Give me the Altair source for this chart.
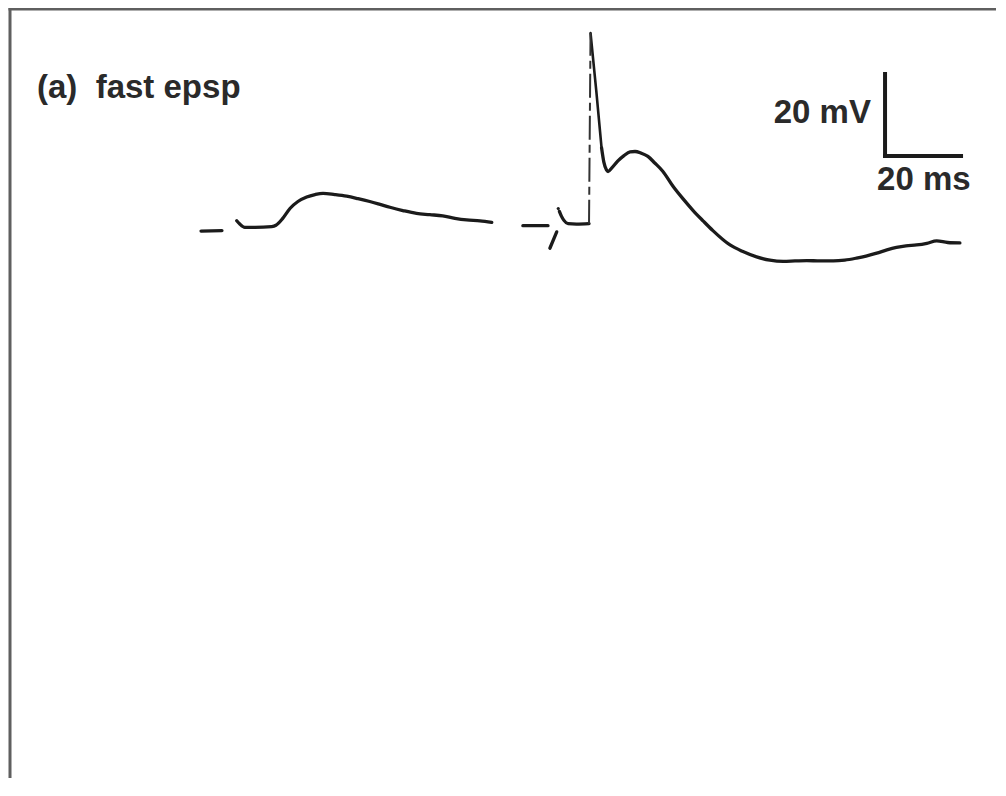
import altair as alt
import pandas as pd

# ---- trace data (time in ms, membrane potential in mV relative to baseline) ----
seg_a_t = [0.3, 5.8]
seg_a_v = [-0.5, -0.4]

seg_b_t = [9.7, 10.5, 11.8, 14.5, 18.9, 20.0, 21.8, 23.7, 25.8, 28.1, 30.3, 32.4, 35.5, 38.6,
           41.6, 44.7, 47.4, 50.0, 53.4, 57.0, 60.5, 63.9, 67.1, 70.2, 73.7, 76.8]
seg_b_v = [2.0, 1.2, 0.4, 0.4, 0.6, 0.9, 2.6, 5.0, 6.7, 7.8, 8.4, 8.7, 8.4, 8.0,
           7.4, 6.7, 6.0, 5.3, 4.5, 3.8, 3.5, 3.2, 2.6, 2.2, 2.0, 1.6]

seg_c_t = [85.0, 91.6]
seg_c_v = [0.8, 0.8]

seg_d_t = [92.1, 93.9]
seg_d_v = [-4.7, -0.7]

seg_e_t = [94.6, 95.1, 95.8, 96.9, 99.1, 102.4]
seg_e_v = [4.3, 3.2, 2.1, 1.3, 1.2, 1.3]

# fast rising phase of the action potential (faint, broken in the recording)
rise_t = [102.4, 102.8]
rise_v = [1.3, 47.8]

# falling phase: nearly straight
fall_t = [102.8, 104.3, 105.7]
fall_v = [47.8, 33.8, 19.8]

seg_g_t = [105.7, 106.3, 107.0, 107.4, 108.4, 110.0,
           111.6, 113.2, 114.5, 116.1, 117.9, 119.7, 121.8, 124.6, 127.1, 129.8, 132.4,
           135.0, 139.5, 142.9, 146.5, 150.0, 153.5, 156.6, 159.7, 163.2, 166.7, 169.7,
           172.8, 175.3, 178.1, 180.8, 183.3, 185.8, 188.6, 191.3, 193.9, 196.8, 200.0]
seg_g_v = [19.8, 16.3, 14.4, 14.0, 14.9, 16.6,
           17.9, 18.8, 18.9, 18.5, 17.7, 16.1, 14.1, 10.3, 7.4, 4.5, 2.0,
           -0.4, -3.9, -5.5, -6.8, -7.6, -7.9, -7.8, -7.7, -7.8, -7.8, -7.6,
           -7.1, -6.6, -5.9, -5.1, -4.5, -4.1, -3.9, -3.5, -2.9, -3.3, -3.4]

dot_t = [94.3]
dot_v = [5.0]

# ---- scale bar (20 ms, 20 mV) ----
bar_x1 = [180.3, 180.3]
bar_x2 = [180.3, 200.3]
bar_y1 = [37.8, 17.8]
bar_y2 = [17.8, 17.8]

label_text = ["20 mV", "20 ms"]
label_t = [176.6, 178.2]
label_v = [28.3, 12.0]

panel_title = "(a)\u00a0\u00a0fast epsp"

# ---- build tables ----
rows = []
for name, ts, vs in [("a", seg_a_t, seg_a_v), ("b", seg_b_t, seg_b_v),
                     ("c", seg_c_t, seg_c_v), ("d", seg_d_t, seg_d_v),
                     ("e", seg_e_t, seg_e_v), ("g", seg_g_t, seg_g_v)]:
    for i, (t, v) in enumerate(zip(ts, vs)):
        rows.append({"seg": name, "i": i, "t": t, "v": v})
trace = pd.DataFrame(rows)
rise = pd.DataFrame({"t": rise_t, "v": rise_v, "i": [0, 1]})
fall = pd.DataFrame({"t": fall_t, "v": fall_v, "i": list(range(len(fall_t)))})
dot = pd.DataFrame({"t": dot_t, "v": dot_v})
bars = pd.DataFrame({"x1": bar_x1, "x2": bar_x2, "y1": bar_y1, "y2": bar_y2})
labels = pd.DataFrame({"text": label_text, "t": label_t, "v": label_v})

W, H = 988, 770
xs = alt.Scale(domain=[-50.5, -50.5 + W / 3.8], nice=False, zero=False)
ys = alt.Scale(domain=[53.9 - H / 4.1, 53.9], nice=False, zero=False)
INK = "#1b1b1b"
TXT = "#2a2a2a"
FONT = "Liberation Sans"
FS = 33

X = alt.X("t:Q", scale=xs, axis=None)
Y = alt.Y("v:Q", scale=ys, axis=None)

trace_layer = alt.Chart(trace).mark_line(
    color=INK, strokeWidth=3.3, interpolate="monotone", strokeCap="round", strokeJoin="round"
).encode(x=X, y=Y, detail="seg:N", order="i:Q")

fall_layer = alt.Chart(fall).mark_line(
    color=INK, strokeWidth=2.6, strokeCap="round", strokeJoin="round"
).encode(x=X, y=Y, order="i:Q")

rise_layer = alt.Chart(rise).mark_line(
    color="#333333", strokeWidth=2, strokeDash=[24, 5, 8, 5]
).encode(x=X, y=Y, order="i:Q")

dot_layer = alt.Chart(dot).mark_circle(color=INK, size=10, opacity=1).encode(x=X, y=Y)

bar_layer = alt.Chart(bars).mark_rule(color=INK, strokeWidth=4, strokeCap="square").encode(
    x=alt.X("x1:Q", scale=xs, axis=None),
    x2="x2:Q",
    y=alt.Y("y1:Q", scale=ys, axis=None),
    y2="y2:Q",
)

label_right = alt.Chart(labels.iloc[[0]]).mark_text(
    align="right", baseline="middle", font=FONT, fontWeight="bold", fontSize=FS, color=TXT
).encode(x=X, y=Y, text="text:N")
label_left = alt.Chart(labels.iloc[[1]]).mark_text(
    align="left", baseline="middle", font=FONT, fontWeight="bold", fontSize=FS, color=TXT
).encode(x=X, y=Y, text="text:N")

title_layer = alt.Chart(pd.DataFrame({"text": [panel_title]})).mark_text(
    align="left", baseline="middle", font=FONT, fontWeight="bold", fontSize=FS, color=TXT
).encode(x=alt.value(29), y=alt.value(80), text="text:N")

frame_left = alt.Chart(pd.DataFrame({"k": [0]})).mark_rule(color="#5f5f5f", strokeWidth=3).encode(
    x=alt.value(2), y=alt.value(0), y2=alt.value(H)
)
frame_top = alt.Chart(pd.DataFrame({"k": [0]})).mark_rule(color="#5f5f5f", strokeWidth=2.5).encode(
    x=alt.value(0.5), x2=alt.value(W), y=alt.value(1.2)
)

chart = alt.layer(
    frame_left, frame_top, trace_layer, fall_layer, rise_layer, dot_layer, bar_layer,
    label_right, label_left, title_layer
).properties(
    width=W, height=H, padding=0, autosize="none", background="white"
).configure_view(stroke=None)

chart.save("out.html", embed_options={"renderer": "svg", "actions": False})
